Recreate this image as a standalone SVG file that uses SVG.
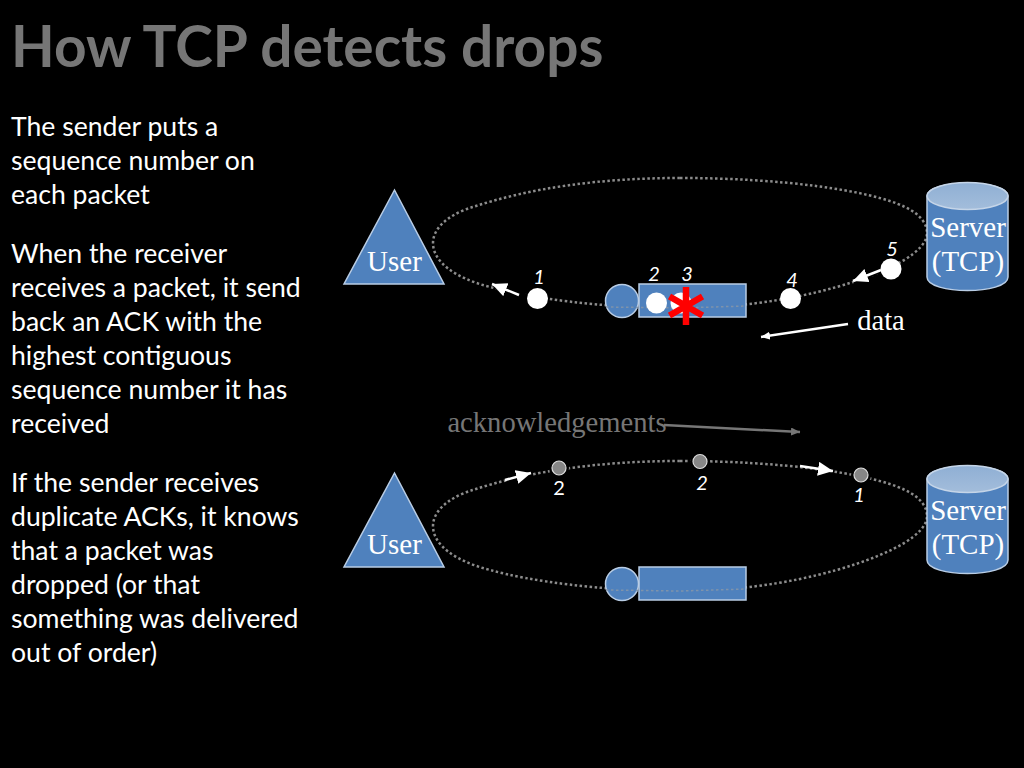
<svg xmlns="http://www.w3.org/2000/svg" width="1024" height="768" viewBox="0 0 1024 768">
<style>
.b{font-family:"Lato","Open Sans",sans-serif;font-size:26.6px;fill:#fff}
.title{font-family:"Lato","Open Sans",sans-serif;font-size:56.800px;font-weight:700;fill:#767676}
.s{font-family:"Liberation Serif",serif;fill:#fff;font-size:29px;text-anchor:middle}
.n{font-family:"Lato","Open Sans",sans-serif;font-size:20px;font-style:italic;fill:#fff;text-anchor:middle}
.shape{fill:#4f81bd;stroke:#b9cde5;stroke-width:1.5}
.loop{fill:none;stroke:#8c8c8c;stroke-width:2.5;stroke-dasharray:2.5 2.5}
.faint{fill:none;stroke:#7f93ab;stroke-width:1.5;stroke-dasharray:2.5 2.5}
.dot{fill:#fff}
.ack{fill:#868686;stroke:#ddd;stroke-width:1.2}
.halo{fill:none;stroke:#000;stroke-width:7}
.w{stroke:#fff;stroke-width:2.5;fill:none}
.g{stroke:#767676;stroke-width:2.5;fill:none}
</style>
<defs>
<marker id="aw" markerUnits="userSpaceOnUse" markerWidth="16" markerHeight="16" refX="15" refY="7" orient="auto"><path d="M0 0L15 7L0 14Z" fill="#fff"/></marker>
<marker id="as" markerUnits="userSpaceOnUse" markerWidth="12" markerHeight="10" refX="9" refY="4" orient="auto"><path d="M0 0L9 4L0 8Z" fill="#fff"/></marker>
<marker id="ag" markerUnits="userSpaceOnUse" markerWidth="12" markerHeight="10" refX="9" refY="4" orient="auto"><path d="M0 0L9 4L0 8Z" fill="#767676"/></marker>
<linearGradient id="lid" x1="0" y1="0" x2="0" y2="1"><stop offset="0" stop-color="#8fafd4"/><stop offset="1" stop-color="#a3bddb"/></linearGradient>
</defs>
<rect width="1024" height="768" fill="#000"/>
<text class="title" x="11" y="66.500">How TCP detects drops</text>
<g id="body">
<text class="b" x="11" y="136">The sender puts a</text>
<text class="b" x="11" y="170">sequence number on</text>
<text class="b" x="11" y="204">each packet</text>
<text class="b" x="11" y="263">When the receiver</text>
<text class="b" x="11" y="297">receives a packet, it send</text>
<text class="b" x="11" y="331">back an ACK with the</text>
<text class="b" x="11" y="365">highest contiguous</text>
<text class="b" x="11" y="399">sequence number it has</text>
<text class="b" x="11" y="433">received</text>
<text class="b" x="11" y="491.500">If the sender receives</text>
<text class="b" x="11" y="525.500">duplicate ACKs, it knows</text>
<text class="b" x="11" y="559.500">that a packet was</text>
<text class="b" x="11" y="593.500">dropped (or that</text>
<text class="b" x="11" y="627.500">something was delivered</text>
<text class="b" x="11" y="661.500">out of order)</text>
</g>
<g id="connectors">
<path class="loop" d="M680 178C780 178 870 190 905 207C922 215 927 225 927 233C927 252 890 270 853 282C810 296 750 308 680 308C600 308 530 298 490 287C455 278 433 262 433 243C433 225 455 212 473 207C530 188 600 178 680 178Z"/>
<path class="loop" d="M680 461C780 461 870 473 905 490C922 498 927 508 927 516C927 535 890 553 853 565C810 579 750 591 680 591C600 591 530 581 490 570C455 561 433 545 433 526C433 508 455 495 473 490C530 471 600 461 680 461Z"/>
<path class="halo" d="M530 299L496 286M884 268L853 281M508 480L531 474"/>
<path class="w" d="M519 295L492 284" marker-end="url(#aw)"/>
<path class="w" d="M881 270L853 281" marker-end="url(#aw)"/>
<path class="w" d="M848 324L761 337" marker-end="url(#as)"/>
<path class="w" d="M505 480L531 473" marker-end="url(#aw)"/>
<path class="w" d="M800 466L833 471" marker-end="url(#aw)"/>
<path class="g" d="M664 425L800 432" marker-end="url(#ag)"/>
</g>
<g id="user1"><path class="shape" d="M394.500 190L444 284H344Z"/><text class="s" x="394.500" y="271">User</text></g>
<g id="user2"><path class="shape" d="M394.500 473L444 567H344Z"/><text class="s" x="394.500" y="554">User</text></g>
<g id="server1"><path class="shape" d="M927 196C927 179 1008 179 1008 196V277C1008 295 927 295 927 277Z"/><ellipse cx="967.500" cy="196" rx="40.500" ry="13.500" fill="url(#lid)" stroke="#c5d5e8" stroke-width="1.500"/><text class="s" x="968" y="237">Server</text><text class="s" x="968" y="271">(TCP)</text></g>
<g id="server2"><path class="shape" d="M927 479C927 462 1008 462 1008 479V560C1008 578 927 578 927 560Z"/><ellipse cx="967.500" cy="479" rx="40.500" ry="13.500" fill="url(#lid)" stroke="#c5d5e8" stroke-width="1.500"/><text class="s" x="968" y="520">Server</text><text class="s" x="968" y="554">(TCP)</text></g>
<g id="router1"><rect class="shape" x="639" y="284" width="107" height="33"/><circle class="shape" cx="622" cy="301" r="16.500"/><path class="faint" d="M606 307L680 308L746 306"/></g>
<g id="router2"><rect class="shape" x="639" y="567" width="107" height="33"/><circle class="shape" cx="622" cy="584" r="16.500"/><path class="faint" d="M606 590L680 591L746 589"/></g>
<g id="packets">
<circle class="dot" cx="537.500" cy="298.500" r="10.500"/>
<circle class="dot" cx="656.500" cy="303" r="10.500"/>
<circle class="dot" cx="681" cy="303" r="10.500"/>
<circle class="dot" cx="790.500" cy="298.500" r="10.500"/>
<circle class="dot" cx="891" cy="269" r="10.500"/>
<circle cx="559" cy="468" r="10"/><circle cx="700" cy="461.500" r="10"/><circle cx="861" cy="475" r="10"/>
<circle class="ack" cx="559" cy="468" r="7"/>
<circle class="ack" cx="700" cy="461.500" r="7"/>
<circle class="ack" cx="861" cy="475" r="7"/>
</g>
<g id="labels">
<text class="n" x="539" y="284">1</text>
<text class="n" x="654" y="281">2</text>
<text class="n" x="687" y="281">3</text>
<text class="n" x="792" y="287">4</text>
<text class="n" x="892" y="256">5</text>
<text class="n" x="559" y="495" style="font-style:normal">2</text>
<text class="n" x="702" y="490">2</text>
<text class="n" x="859" y="502">1</text>
<text class="s" x="881" y="330" style="font-size:28.6px">data</text>
<text class="s" x="557" y="432" style="font-size:28.6px;fill:#767676">acknowledgements</text>
<path d="M686 287V325M669.500 296.500L702.500 315.500M702.500 296.500L669.500 315.500" stroke="#f00" stroke-width="6.500" fill="none"/>
</g>
</svg>
